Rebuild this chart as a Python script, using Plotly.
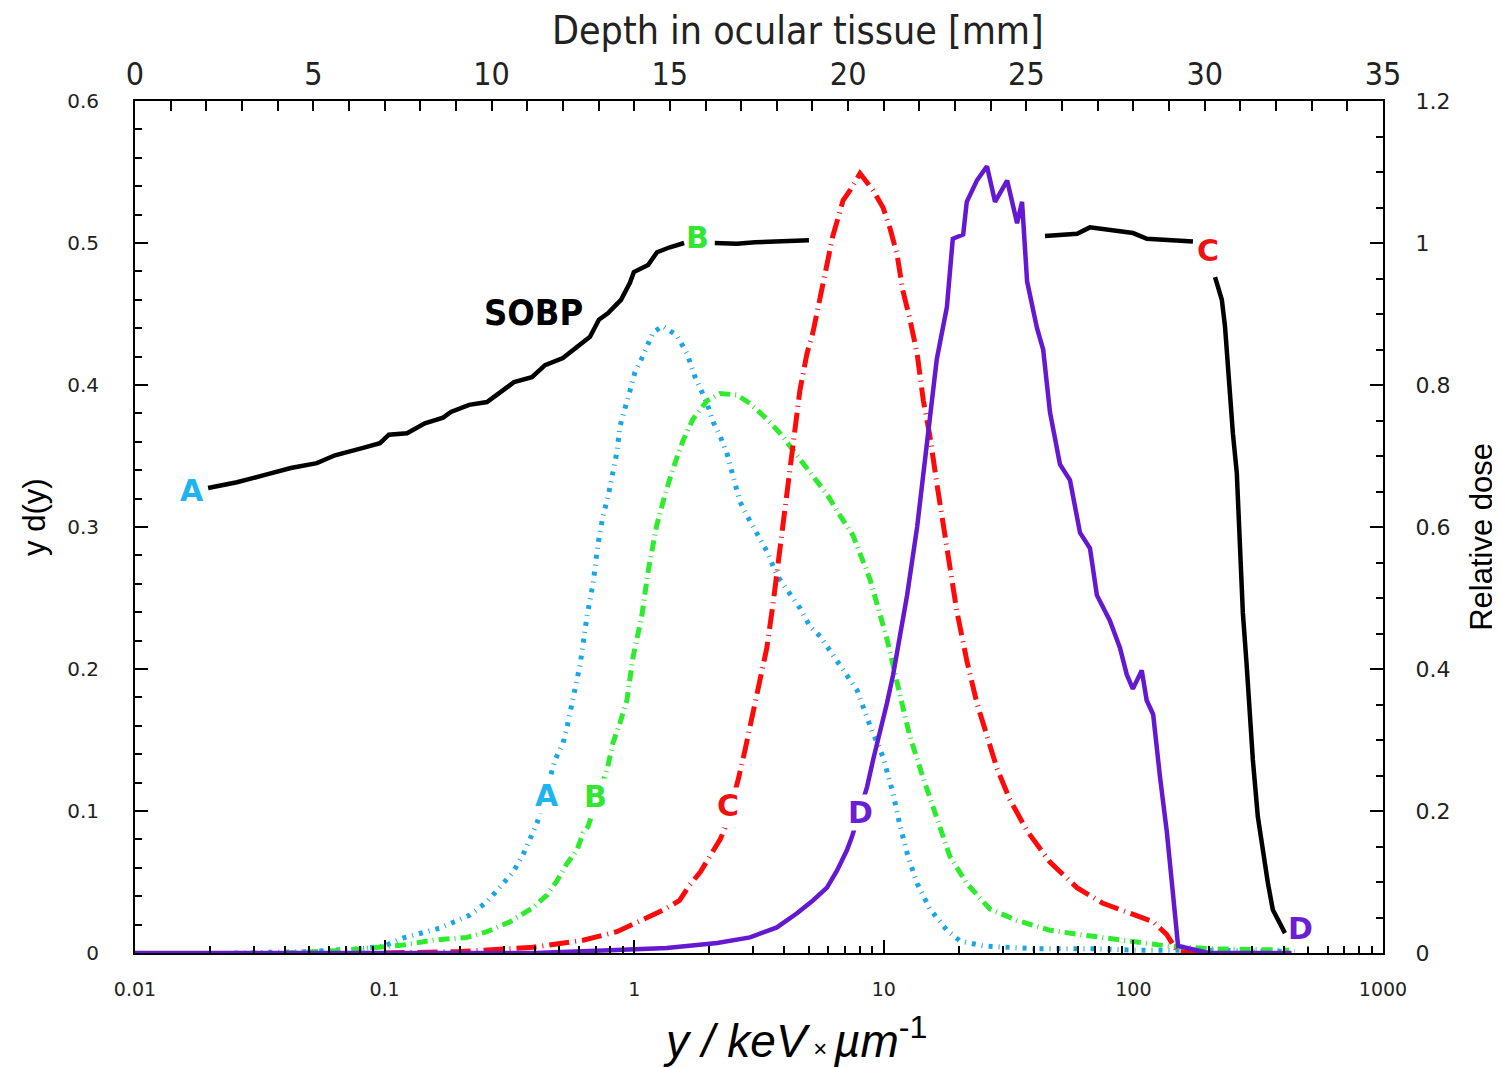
import math
import plotly.graph_objects as go

# ---------------- data ----------------
# bottom axis: lineal energy y [keV/um] (log); left axis: y d(y)
A_x = [0.025, 0.05, 0.08, 0.10, 0.119, 0.167, 0.22, 0.257, 0.29, 0.327, 0.358, 0.383, 0.408,
       0.482, 0.519, 0.538, 0.564, 0.607, 0.648, 0.684, 0.716, 0.75, 0.785, 0.822, 0.853, 0.877,
       0.918, 0.962, 1.007, 1.074, 1.19, 1.30, 1.48, 1.63, 1.75, 1.87, 1.96, 2.07, 2.21, 2.36,
       2.49, 2.65, 2.83, 3.10, 3.40, 3.73, 4.21, 4.61, 5.06, 5.55, 6.08, 6.87, 7.82, 8.81, 9.93,
       10.9, 11.6, 12.5, 13.6, 15.3, 17.9, 20.2, 25.0, 40.0, 70.0, 100.0, 200.0, 444.0]
A_y = [0.0, 0.001, 0.003, 0.005, 0.0106, 0.0176, 0.0268, 0.036, 0.0465, 0.057, 0.069, 0.0796,
       0.0915, 0.136, 0.148, 0.159, 0.176, 0.203, 0.238, 0.26, 0.288, 0.308, 0.321, 0.339, 0.353,
       0.371, 0.382, 0.396, 0.409, 0.419, 0.437, 0.4415, 0.435, 0.422, 0.406, 0.396, 0.387,
       0.374, 0.364, 0.351, 0.334, 0.318, 0.308, 0.296, 0.283, 0.266, 0.253, 0.243, 0.230,
       0.223, 0.213, 0.200, 0.185, 0.160, 0.138, 0.112, 0.090, 0.068, 0.049, 0.031, 0.016,
       0.0085, 0.005, 0.003, 0.003, 0.002, 0.002, 0.001]

B_x = [0.04, 0.07, 0.119, 0.156, 0.214, 0.257, 0.318, 0.393, 0.448, 0.491, 0.538, 0.590, 0.624,
       0.653, 0.778, 0.822, 0.877, 0.935, 0.988, 1.074, 1.135, 1.23, 1.33, 1.43, 1.57, 1.72,
       1.96, 2.21, 2.58, 2.91, 3.40, 3.84, 4.33, 5.20, 5.92, 6.68, 7.53, 8.81, 10.3, 11.6, 12.7,
       14.4, 16.3, 18.4, 21.5, 26.6, 34.1, 46.3, 62.8, 99.6, 136.0, 200.0, 420.0]
B_y = [0.0, 0.002, 0.0056, 0.009, 0.011, 0.015, 0.022, 0.032, 0.041, 0.051, 0.063, 0.0725,
       0.0845, 0.089, 0.129, 0.148, 0.162, 0.178, 0.208, 0.238, 0.268, 0.301, 0.323, 0.341,
       0.361, 0.376, 0.389, 0.394, 0.393, 0.387, 0.376, 0.366, 0.354, 0.336, 0.323, 0.308,
       0.294, 0.263, 0.221, 0.182, 0.153, 0.123, 0.094, 0.068, 0.049, 0.031, 0.023, 0.016,
       0.0127, 0.0085, 0.005, 0.003, 0.002]

C_x = [0.10, 0.2, 0.393, 0.624, 0.853, 1.05, 1.30, 1.52, 1.67, 1.84, 2.01, 2.21, 2.31, 2.61,
       2.78, 2.91, 3.05, 3.10, 3.40, 3.60, 3.84, 4.09, 4.33, 4.61, 4.92, 5.20, 5.55, 5.92, 6.25,
       6.87, 7.32, 8.03, 9.06, 9.93, 10.6, 11.3, 11.9, 12.7, 13.6, 14.4, 15.3, 16.3, 17.3, 18.4,
       19.6, 21.5, 23.6, 25.9, 28.4, 32.0, 37.5, 46.3, 59.4, 75.5, 99.6, 120.0, 136.0, 150.0,
       200.0]
C_y = [0.0, 0.001, 0.004, 0.009, 0.015, 0.022, 0.030, 0.037, 0.048, 0.057, 0.068, 0.080,
       0.088, 0.122, 0.143, 0.159, 0.176, 0.180, 0.215, 0.246, 0.283, 0.321, 0.358, 0.396,
       0.422, 0.437, 0.462, 0.487, 0.505, 0.530, 0.537, 0.549, 0.537, 0.525, 0.510, 0.492,
       0.467, 0.447, 0.422, 0.389, 0.364, 0.331, 0.301, 0.270, 0.241, 0.206, 0.176, 0.153,
       0.130, 0.108, 0.086, 0.064, 0.046, 0.035, 0.027, 0.022, 0.013, 0.001, 0.0]

D_x = [0.01, 0.4, 0.8, 1.35, 2.15, 2.91, 3.73, 4.49, 5.20, 5.92, 6.49, 7.12, 7.46, 8.57, 9.06,
       9.66, 10.3, 10.9, 12.4, 13.6, 14.9, 16.3, 17.9, 18.9, 20.8, 21.5, 23.6, 25.9, 27.9, 31.2,
       34.2, 35.8, 37.5, 41.1, 43.5, 46.3, 50.8, 55.7, 61.1, 67.0, 71.4, 80.5, 88.3, 94.1, 99.5,
       108.0, 113.0, 120.0, 128.0, 136.0, 144.0, 151.0, 200.0, 430.0]
D_y = [0.0, 0.0, 0.002, 0.0035, 0.007, 0.011, 0.018, 0.028, 0.037, 0.046, 0.058, 0.0725,
       0.082, 0.117, 0.136, 0.155, 0.176, 0.196, 0.252, 0.300, 0.359, 0.418, 0.455, 0.503,
       0.506, 0.529, 0.544, 0.554, 0.529, 0.544, 0.514, 0.529, 0.473, 0.440, 0.425, 0.381,
       0.344, 0.333, 0.296, 0.285, 0.252, 0.234, 0.215, 0.196, 0.186, 0.199, 0.178, 0.168,
       0.123, 0.086, 0.042, 0.005, 0.0, 0.0]

# top axis: depth in ocular tissue [mm]; right axis: relative dose
SOBP1_depth = [2.05, 2.86, 3.62, 4.37, 5.10, 5.61, 6.37, 6.87, 7.12, 7.63, 8.13, 8.64, 8.86,
               9.37, 9.87, 10.26, 10.63, 11.13, 11.50, 12.00, 12.37, 12.76, 13.01, 13.26,
               13.63, 13.88, 13.99, 14.39, 14.64, 15.00, 15.40]
SOBP1_dose = [0.655, 0.663, 0.673, 0.683, 0.690, 0.701, 0.711, 0.718, 0.730, 0.732, 0.746,
              0.754, 0.762, 0.772, 0.776, 0.790, 0.804, 0.811, 0.828, 0.838, 0.852, 0.868,
              0.892, 0.901, 0.920, 0.944, 0.959, 0.969, 0.987, 0.994, 1.000]
SOBP2_depth = [16.26, 16.88, 17.39, 18.90]
SOBP2_dose = [1.000, 0.999, 1.001, 1.004]
SOBP3_depth = [25.52, 26.42, 26.78, 27.26, 27.99, 28.38, 29.67]
SOBP3_dose = [1.010, 1.013, 1.022, 1.019, 1.014, 1.006, 1.002]
SOBP4_depth = [30.29, 30.48, 30.57, 30.62, 30.71, 30.79, 30.90, 30.93, 30.99, 31.07, 31.18,
               31.27, 31.35, 31.49, 31.63, 31.77, 31.91, 32.11, 32.25]
SOBP4_dose = [0.952, 0.920, 0.882, 0.849, 0.779, 0.732, 0.676, 0.638, 0.577, 0.479, 0.403,
              0.332, 0.272, 0.192, 0.141, 0.099, 0.061, 0.042, 0.028]

# curve labels: text, colour, (y [keV/um], y d(y)) position
label_text = ["A", "A", "B", "B", "C", "C", "D", "D", "SOBP"]
label_color = ["#1EB4F0", "#1EB4F0", "#33E633", "#33E633", "#EE1111", "#EE1111",
               "#6A1FD6", "#6A1FD6", "#000000"]
label_x = [0.0169, 0.448, 0.697, 1.80, 2.38, 199.0, 8.03, 465.0, 0.394]
label_y = [0.326, 0.111, 0.110, 0.504, 0.104, 0.495, 0.099, 0.0176, 0.451]

bottom_ticks = [0.01, 0.1, 1, 10, 100, 1000]
bottom_ticktext = ["0.01", "0.1", "1", "10", "100", "1000"]

# ---------------- figure ----------------
fig = go.Figure()

CYAN = "#1AA6E6"
GREEN = "#2EEB2E"
RED = "#FF0A0A"
PURPLE = "#6418D2"

fig.add_trace(go.Scatter(x=A_x, y=A_y, mode="lines",
                         line=dict(color=CYAN, width=5, dash="4px,6px,1px,6px")))
fig.add_trace(go.Scatter(x=B_x, y=B_y, mode="lines",
                         line=dict(color=GREEN, width=5, dash="11px,5px,1px,5px")))
fig.add_trace(go.Scatter(x=C_x, y=C_y, mode="lines",
                         line=dict(color=RED, width=5, dash="20px,6px,1px,6px")))
fig.add_trace(go.Scatter(x=D_x, y=D_y, mode="lines",
                         line=dict(color=PURPLE, width=4.5)))

for dx, dy in [(SOBP1_depth, SOBP1_dose), (SOBP2_depth, SOBP2_dose),
               (SOBP3_depth, SOBP3_dose), (SOBP4_depth, SOBP4_dose)]:
    fig.add_trace(go.Scatter(x=dx, y=dy, mode="lines", xaxis="x2", yaxis="y2",
                             line=dict(color="black", width=4.5)))

NARROW = "Liberation Sans Narrow, DejaVu Sans Condensed, sans-serif"
for t, c, lx, ly in zip(label_text, label_color, label_x, label_y):
    if t == "SOBP":
        f = dict(family=NARROW, size=36, color=c, weight="bold")
    else:
        f = dict(family="DejaVu Sans", size=30, color=c, weight="bold")
    fig.add_annotation(x=math.log10(lx), y=ly, xref="x", yref="y", text=t,
                       showarrow=False, xanchor="center", yanchor="middle", font=f,
                       bgcolor="white", borderpad=0)

common = dict(showgrid=False, zeroline=False, showline=True, linecolor="black",
              linewidth=2, ticks="inside", tickcolor="black", tickwidth=1.5,
              automargin=False)

# the page body adds an 8 px offset; margins compensate so the plot box
# lands at x 135..1383, y 101..953
fig.update_layout(
    width=1500, height=1068,
    margin=dict(l=127, r=125, t=93, b=123),
    paper_bgcolor="white", plot_bgcolor="white",
    showlegend=False,
    xaxis=dict(type="log", range=[-2, 3], tickvals=bottom_ticks, ticktext=bottom_ticktext,
               ticklen=13, tickfont=dict(family="DejaVu Sans", size=19, color="#222222"),
               ticklabelstandoff=18,
               minor=dict(ticks="inside", ticklen=7, tickcolor="black", tickwidth=1.5,
                          dtick="D1"),
               **common),
    yaxis=dict(range=[0, 0.6], dtick=0.1, ticklen=13,
               tickfont=dict(family="DejaVu Sans", size=20, color="#222222"),
               ticklabelstandoff=30,
               minor=dict(ticks="inside", ticklen=7, dtick=0.02, tickcolor="black",
                          tickwidth=1.5),
               **common),
    xaxis2=dict(overlaying="x", side="top", range=[0, 35], dtick=5, ticklen=10,
                tickfont=dict(family=NARROW, size=32, color="#222222"),
                ticklabelstandoff=1,
                minor=dict(ticks="inside", ticklen=10, dtick=1, tickcolor="black",
                           tickwidth=1.5),
                **common),
    yaxis2=dict(overlaying="y", side="right", range=[0, 1.2], dtick=0.2, ticklen=13,
                tickfont=dict(family="DejaVu Sans", size=22, color="#222222"),
                ticklabelstandoff=26,
                minor=dict(ticks="inside", ticklen=7, dtick=0.05, tickcolor="black",
                           tickwidth=1.5),
                **common),
)

# axis titles
fig.add_annotation(x=0.531, y=1.083, xref="paper", yref="paper", showarrow=False,
                   xanchor="center", yanchor="middle",
                   text="Depth in ocular tissue [mm]",
                   font=dict(family=NARROW, size=39, color="#222222"))
fig.add_annotation(x=-0.080, y=0.512, xref="paper", yref="paper", showarrow=False,
                   xanchor="center", yanchor="middle",
                   text="y d(y)", textangle=-90,
                   font=dict(family="Liberation Sans", size=31, color="black"))
fig.add_annotation(x=1.079, y=0.488, xref="paper", yref="paper", showarrow=False,
                   xanchor="center", yanchor="middle",
                   text="Relative dose", textangle=-90,
                   font=dict(family="Liberation Sans", size=31, color="black"))
fig.add_annotation(x=0.529, y=-0.100, xref="paper", yref="paper", showarrow=False,
                   xanchor="center", yanchor="middle",
                   text="<i>y / keV</i><span style='font-size:24px'> × </span><i>µm</i><sup>-1</sup>",
                   font=dict(family="Liberation Sans", size=46, color="black"))

fig.write_html("out.html")
